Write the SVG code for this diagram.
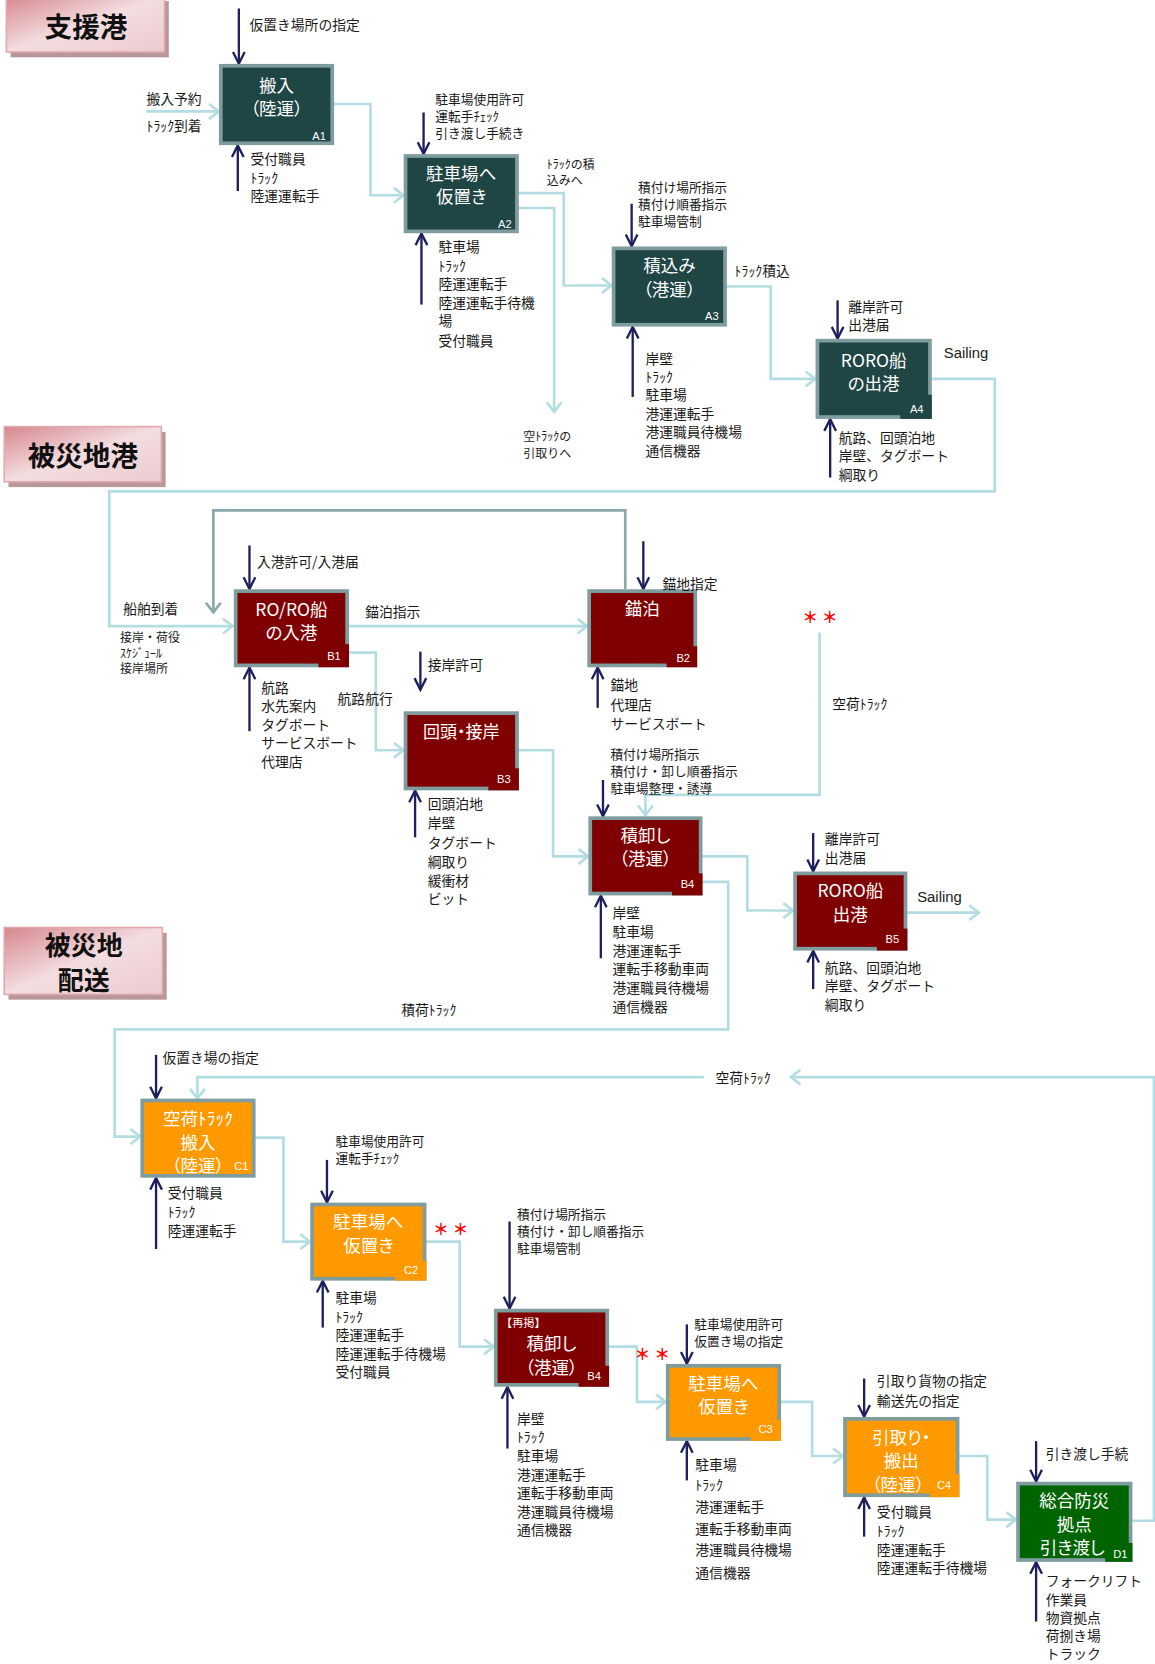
<svg xmlns="http://www.w3.org/2000/svg" width="1155" height="1664" viewBox="0 0 1155 1664">
<defs>
<style>
.lbl{font-family:"Noto Sans CJK JP","Noto Sans",sans-serif;font-size:13px;fill:#1a1a1a;dominant-baseline:central}
.t12{font-size:12px}
.sm{font-size:11.3px}
.bt{font-family:"Noto Sans CJK JP","Noto Sans",sans-serif;font-size:16.5px;fill:#ffffff;text-anchor:middle;dominant-baseline:central;font-feature-settings:"palt" 1}
.rk{font-family:"Noto Sans CJK JP","Noto Sans",sans-serif;font-size:10.5px;fill:#ffffff;dominant-baseline:central}
.id{font-family:"Liberation Sans",Arial,sans-serif;font-size:10.5px;fill:#ffffff;text-anchor:end;dominant-baseline:central}
.lat{font-family:"Liberation Sans",Arial,sans-serif;font-size:14px;fill:#1a1a1a;dominant-baseline:central}
.ttl{font-family:"Noto Sans CJK JP",sans-serif;font-size:26px;font-weight:700;fill:#111111;text-anchor:middle;dominant-baseline:central}
.bx{stroke:#7f9c9e;stroke-width:3.5}
.fa{fill:#1f4545}.fb{fill:#7f0000}.fc{fill:#ff9900}.fd{fill:#006400}
.tb{fill:url(#pink);stroke:#e0a9ae;stroke-width:1.5}
.sh{fill:#b8979a}
.cn{fill:none;stroke:#b3dde2;stroke-width:2.5;marker-end:url(#lb)}
.gr{fill:none;stroke:#8aa7aa;stroke-width:2.5;marker-end:url(#gh)}
.ct{fill:none;stroke:#1f1f5e;stroke-width:2.2;marker-end:url(#nv)}
.ast{font-family:"Noto Sans CJK JP",sans-serif;font-size:15px;font-weight:700;fill:#ff0000;text-anchor:middle;dominant-baseline:central}
</style>
<linearGradient id="pink" x1="0" y1="0" x2="1" y2="1">
<stop offset="0" stop-color="#d6868d"/>
<stop offset="0.5" stop-color="#f3dde0"/>
<stop offset="1" stop-color="#eccbcf"/>
</linearGradient>
<marker id="lb" viewBox="-12 -9 14 18" refX="0" refY="0" markerWidth="14" markerHeight="18" markerUnits="userSpaceOnUse" orient="auto"><path d="M-9,-7 L0,0 L-9,7" fill="none" stroke="#b3dde2" stroke-width="2.5"/></marker>
<marker id="gh" viewBox="-12 -9 14 18" refX="0" refY="0" markerWidth="14" markerHeight="18" markerUnits="userSpaceOnUse" orient="auto"><path d="M-9,-7 L0,0 L-9,7" fill="none" stroke="#8aa7aa" stroke-width="2.5"/></marker>
<marker id="nv" viewBox="-13 -8 15 16" refX="0" refY="0" markerWidth="15" markerHeight="16" markerUnits="userSpaceOnUse" orient="auto"><path d="M-11,-5.5 L0,0 L-11,5.5" fill="none" stroke="#1f1f5e" stroke-width="2.2"/></marker>
</defs>
<rect x="0" y="0" width="1155" height="1664" fill="#ffffff"/>
<g transform="scale(1.06158 1.06122)">

<g id="title-shien">
<rect class="sh" x="10" y="1" width="149" height="53"/>
<rect class="tb" x="6" y="-4" width="149" height="53"/>
<text class="ttl" x="81" y="24">支援港</text>
</g>
<g id="title-hisaichikou">
<rect class="sh" x="8" y="407" width="148" height="52"/>
<rect class="tb" x="4" y="402" width="148" height="52"/>
<text class="ttl" x="78" y="428">被災地港</text>
</g>
<g id="title-haisou">
<rect class="sh" x="8" y="879" width="149" height="63"/>
<rect class="tb" x="4" y="874" width="149" height="63"/>
<text class="ttl" x="79" style="font-size:24.5px"><tspan x="79" y="889">被災地</tspan><tspan x="79" y="922">配送</tspan></text>
</g>

<g id="connectors">
<path class="cn" d="M138,105 H206"/>
<path class="cn" d="M313,98 H349 V184 H380"/>
<path class="cn" d="M487,182 H531 V269 H576"/>
<path class="cn" d="M487,196 H522 V388"/>
<path class="cn" d="M683,270 H726 V357 H768"/>
<path class="cn" d="M876,357 H937 V463 H103 V590 H219"/>
<path class="cn" d="M327,590 H553"/>
<path class="cn" d="M327,615 H354 V707 H380"/>
<path class="cn" d="M487,707 H521 V807 H554"/>
<path class="cn" d="M772,596 V749 H608 V768"/>
<path class="cn" d="M660,807 H704 V858 H747"/>
<path class="cn" d="M853,860 H922"/>
<path class="cn" d="M660,831 H686 V970 H108 V1071 H132"/>
<path class="cn" d="M239,1072 H267 V1170 H292"/>
<path class="cn" d="M400,1170 H433 V1269 H465"/>
<path class="cn" d="M572,1269 H600 V1321 H627"/>
<path class="cn" d="M734,1321 H765 V1372 H794"/>
<path class="cn" d="M902,1372 H930 V1432 H957"/>
<path class="cn" d="M1065,1433 H1087 V1015 H745"/>
<path class="cn" d="M663,1015 H186 V1035"/>
<path class="gr" d="M589,555 V481 H201 V577"/>

<path class="ct" d="M225,8 V60"/>
<path class="ct" d="M224,180 V137"/>
<path class="ct" d="M399,106 V145"/>
<path class="ct" d="M397,287 V220"/>
<path class="ct" d="M595,192 V232"/>
<path class="ct" d="M596,374 V308"/>
<path class="ct" d="M789,283 V319"/>
<path class="ct" d="M782,450 V395"/>
<path class="ct" d="M235,514 V555"/>
<path class="ct" d="M235,689 V629"/>
<path class="ct" d="M606,510 V555"/>
<path class="ct" d="M563,667 V629"/>
<path class="ct" d="M396,614 V650"/>
<path class="ct" d="M391,789 V745"/>
<path class="ct" d="M568,735 V769"/>
<path class="ct" d="M566,903 V844"/>
<path class="ct" d="M766,785 V821"/>
<path class="ct" d="M766,932 V896"/>
<path class="ct" d="M147,994 V1035"/>
<path class="ct" d="M147,1177 V1110"/>
<path class="ct" d="M308,1093 V1133"/>
<path class="ct" d="M304,1251 V1207"/>
<path class="ct" d="M480,1151 V1233"/>
<path class="ct" d="M478,1365 V1307"/>
<path class="ct" d="M647,1248 V1285"/>
<path class="ct" d="M647,1395 V1358"/>
<path class="ct" d="M814,1299 V1335"/>
<path class="ct" d="M814,1448 V1411"/>
<path class="ct" d="M976,1358 V1396"/>
<path class="ct" d="M976,1528 V1472"/>
</g>

<g id="A1">
<rect class="bx fa" x="208" y="62" width="105" height="73"/>
<text class="bt" x="260.5"><tspan x="260.5" y="79">搬入</tspan><tspan x="260.5" y="101">（陸運）</tspan></text>
<text class="id" x="307" y="128">A1</text>
</g>
<g id="A2">
<rect class="bx fa" x="382" y="147" width="105" height="71"/>
<text class="bt" x="434.5"><tspan x="434.5" y="162">駐車場へ</tspan><tspan x="434.5" y="184">仮置き</tspan></text>
<text class="id" x="482" y="211">A2</text>
</g>
<g id="A3">
<rect class="bx fa" x="578" y="234" width="105" height="72"/>
<text class="bt" x="630.5"><tspan x="630.5" y="249">積込み</tspan><tspan x="630.5" y="271">（港運）</tspan></text>
<text class="id" x="677" y="298">A3</text>
</g>
<g id="A4">
<rect class="bx fa" x="770" y="321" width="106" height="72"/>
<rect class="fa" x="848" y="372" width="29.75" height="22.75"/>
<text class="bt" x="823"><tspan x="823" y="338">RORO船</tspan><tspan x="823" y="360">の出港</tspan></text>
<text class="id" x="870" y="385">A4</text>
</g>

<g id="B1">
<rect class="bx fb" x="222" y="557" width="105" height="70"/>
<rect class="fb" x="300" y="607" width="28.75" height="21.75"/>
<text class="bt" x="274.5"><tspan x="274.5" y="573">RO/RO船</tspan><tspan x="274.5" y="595">の入港</tspan></text>
<text class="id" x="321" y="618">B1</text>
</g>
<g id="B2">
<rect class="bx fb" x="555" y="557" width="100" height="70"/>
<rect class="fb" x="628" y="609" width="28.75" height="19.75"/>
<text class="bt" x="605" y="572">錨泊</text>
<text class="id" x="650" y="620">B2</text>
</g>
<g id="B3">
<rect class="bx fb" x="382" y="672" width="105" height="71"/>
<rect class="fb" x="460" y="724" width="28.75" height="20.75"/>
<text class="bt" x="434.5" y="688" style="font-size:16px">回頭・接岸</text>
<text class="id" x="481" y="734">B3</text>
</g>
<g id="B4">
<rect class="bx fb" x="556" y="771" width="104" height="71"/>
<rect class="fb" x="633" y="823" width="28.75" height="20.75"/>
<text class="bt" x="608"><tspan x="608" y="786">積卸し</tspan><tspan x="608" y="808">（港運）</tspan></text>
<text class="id" x="654" y="833">B4</text>
</g>
<g id="B5">
<rect class="bx fb" x="749" y="823" width="104" height="71"/>
<rect class="fb" x="826" y="875" width="28.75" height="20.75"/>
<text class="bt" x="801"><tspan x="801" y="838">RORO船</tspan><tspan x="801" y="860">出港</tspan></text>
<text class="id" x="847" y="885">B5</text>
</g>

<g id="C1">
<rect class="bx fc" x="134" y="1037" width="105" height="71"/>
<text class="bt" x="186.5"><tspan x="186.5" y="1053">空荷ﾄﾗｯｸ</tspan><tspan x="186.5" y="1075">搬入</tspan><tspan x="186.5" y="1097">（陸運）</tspan></text>
<text class="id" x="234" y="1099">C1</text>
</g>
<g id="C2">
<rect class="bx fc" x="294" y="1135" width="106" height="70"/>
<rect class="fc" x="372" y="1188" width="29.75" height="18.75"/>
<text class="bt" x="347"><tspan x="347" y="1150">駐車場へ</tspan><tspan x="347" y="1172">仮置き</tspan></text>
<text class="id" x="394" y="1197">C2</text>
</g>
<g id="B4-repost">
<rect class="bx fb" x="467" y="1235" width="105" height="70"/>
<rect class="fb" x="545" y="1287" width="28.75" height="19.75"/>
<text class="rk" x="472" y="1246">【再掲】</text>
<text class="bt" x="519.5"><tspan x="519.5" y="1265">積卸し</tspan><tspan x="519.5" y="1287">（港運）</tspan></text>
<text class="id" x="566" y="1297">B4</text>
</g>
<g id="C3">
<rect class="bx fc" x="629" y="1287" width="105" height="69"/>
<rect class="fc" x="707" y="1338" width="28.75" height="19.75"/>
<text class="bt" x="681.5"><tspan x="681.5" y="1302">駐車場へ</tspan><tspan x="681.5" y="1324">仮置き</tspan></text>
<text class="id" x="728" y="1347">C3</text>
</g>
<g id="C4">
<rect class="bx fc" x="796" y="1337" width="106" height="72"/>
<rect class="fc" x="876" y="1389" width="27.75" height="21.75"/>
<text class="bt" x="849"><tspan x="849" y="1353">引取り・</tspan><tspan x="849" y="1375">搬出</tspan><tspan x="846" y="1397">（陸運）</tspan></text>
<text class="id" x="896" y="1399">C4</text>
</g>
<g id="D1">
<rect class="bx fd" x="959" y="1398" width="106" height="72"/>
<rect class="fd" x="1041" y="1454" width="25.75" height="17.75"/>
<text class="bt" x="1012"><tspan x="1012" y="1413">総合防災</tspan><tspan x="1012" y="1435">拠点</tspan><tspan x="1010" y="1457">引き渡し</tspan></text>
<text class="id" x="1062" y="1464">D1</text>
</g>

<g id="labels">
<text class="lbl" x="235" y="23">仮置き場所の指定</text>
<text class="lbl" x="138"><tspan x="138" y="92">搬入予約</tspan><tspan x="138" y="118">ﾄﾗｯｸ到着</tspan></text>
<text class="lbl" x="236"><tspan x="236" y="149">受付職員</tspan><tspan x="236" y="167">ﾄﾗｯｸ</tspan><tspan x="236" y="184">陸運運転手</tspan></text>
<text class="lbl t12" x="410"><tspan x="410" y="92">駐車場使用許可</tspan><tspan x="410" y="108">運転手ﾁｪｯｸ</tspan><tspan x="410" y="124">引き渡し手続き</tspan></text>
<text class="lbl" x="413"><tspan x="413" y="232">駐車場</tspan><tspan x="413" y="250">ﾄﾗｯｸ</tspan><tspan x="413" y="267">陸運運転手</tspan><tspan x="413" y="285">陸運運転手待機</tspan><tspan x="413" y="302">場</tspan><tspan x="413" y="320">受付職員</tspan></text>
<text class="lbl sm" x="515"><tspan x="515" y="154">ﾄﾗｯｸの積</tspan><tspan x="515" y="169">込みへ</tspan></text>
<text class="lbl sm" x="493"><tspan x="493" y="410">空ﾄﾗｯｸの</tspan><tspan x="493" y="426">引取りへ</tspan></text>
<text class="lbl t12" x="601"><tspan x="601" y="175">積付け場所指示</tspan><tspan x="601" y="191">積付け順番指示</tspan><tspan x="601" y="207">駐車場管制</tspan></text>
<text class="lbl" x="692" y="254">ﾄﾗｯｸ積込</text>
<text class="lbl" x="608"><tspan x="608" y="337">岸壁</tspan><tspan x="608" y="354">ﾄﾗｯｸ</tspan><tspan x="608" y="371">駐車場</tspan><tspan x="608" y="389">港運運転手</tspan><tspan x="608" y="406">港運職員待機場</tspan><tspan x="608" y="424">通信機器</tspan></text>
<text class="lbl" x="799"><tspan x="799" y="288">離岸許可</tspan><tspan x="799" y="305">出港届</tspan></text>
<text class="lat" x="889" y="333">Sailing</text>
<text class="lbl" x="790"><tspan x="790" y="412">航路、回頭泊地</tspan><tspan x="790" y="429">岸壁、タグボート</tspan><tspan x="790" y="447">綱取り</tspan></text>

<text class="lbl" x="116" y="573">船舶到着</text>
<text class="lbl sm" x="113"><tspan x="113" y="599">接岸・荷役</tspan><tspan x="113" y="614">ｽｹｼﾞｭｰﾙ</tspan><tspan x="113" y="629">接岸場所</tspan></text>
<text class="lbl" x="242" y="529">入港許可/入港届</text>
<text class="lbl" x="344" y="576">錨泊指示</text>
<text class="lbl" x="246"><tspan x="246" y="647">航路</tspan><tspan x="246" y="664">水先案内</tspan><tspan x="246" y="682">タグボート</tspan><tspan x="246" y="699">サービスボート</tspan><tspan x="246" y="717">代理店</tspan></text>
<text class="lbl" x="318" y="658">航路航行</text>
<text class="lbl" x="403" y="626">接岸許可</text>
<text class="lbl" x="403"><tspan x="403" y="757">回頭泊地</tspan><tspan x="403" y="775">岸壁</tspan><tspan x="403" y="793">タグボート</tspan><tspan x="403" y="811">綱取り</tspan><tspan x="403" y="829">緩衝材</tspan><tspan x="403" y="846">ビット</tspan></text>
<text class="lbl" x="624" y="549">錨地指定</text>
<text class="lbl" x="575"><tspan x="575" y="645">錨地</tspan><tspan x="575" y="663">代理店</tspan><tspan x="575" y="681">サービスボート</tspan></text>
<text class="ast" x="772.5" y="581">＊ ＊</text>
<text class="lbl" x="784" y="662">空荷ﾄﾗｯｸ</text>
<text class="lbl t12" x="575"><tspan x="575" y="710">積付け場所指示</tspan><tspan x="575" y="726">積付け・卸し順番指示</tspan><tspan x="575" y="742">駐車場整理・誘導</tspan></text>
<text class="lbl" x="577"><tspan x="577" y="859">岸壁</tspan><tspan x="577" y="877">駐車場</tspan><tspan x="577" y="895">港運運転手</tspan><tspan x="577" y="912">運転手移動車両</tspan><tspan x="577" y="930">港運職員待機場</tspan><tspan x="577" y="948">通信機器</tspan></text>
<text class="lbl" x="777"><tspan x="777" y="790">離岸許可</tspan><tspan x="777" y="808">出港届</tspan></text>
<text class="lat" x="864" y="845">Sailing</text>
<text class="lbl" x="777"><tspan x="777" y="911">航路、回頭泊地</tspan><tspan x="777" y="928">岸壁、タグボート</tspan><tspan x="777" y="946">綱取り</tspan></text>
<text class="lbl" x="378" y="951">積荷ﾄﾗｯｸ</text>

<text class="lbl" x="153" y="996">仮置き場の指定</text>
<text class="lbl" x="674" y="1015">空荷ﾄﾗｯｸ</text>
<text class="lbl" x="158"><tspan x="158" y="1123">受付職員</tspan><tspan x="158" y="1141">ﾄﾗｯｸ</tspan><tspan x="158" y="1159">陸運運転手</tspan></text>
<text class="lbl t12" x="316"><tspan x="316" y="1074">駐車場使用許可</tspan><tspan x="316" y="1090">運転手ﾁｪｯｸ</tspan></text>
<text class="ast" x="424.5" y="1158">＊ ＊</text>
<text class="lbl" x="316"><tspan x="316" y="1222">駐車場</tspan><tspan x="316" y="1240">ﾄﾗｯｸ</tspan><tspan x="316" y="1257">陸運運転手</tspan><tspan x="316" y="1275">陸運運転手待機場</tspan><tspan x="316" y="1292">受付職員</tspan></text>
<text class="lbl t12" x="487"><tspan x="487" y="1143">積付け場所指示</tspan><tspan x="487" y="1159">積付け・卸し順番指示</tspan><tspan x="487" y="1175">駐車場管制</tspan></text>
<text class="lbl" x="487"><tspan x="487" y="1336">岸壁</tspan><tspan x="487" y="1353">ﾄﾗｯｸ</tspan><tspan x="487" y="1371">駐車場</tspan><tspan x="487" y="1389">港運運転手</tspan><tspan x="487" y="1406">運転手移動車両</tspan><tspan x="487" y="1424">港運職員待機場</tspan><tspan x="487" y="1441">通信機器</tspan></text>
<text class="ast" x="614.5" y="1275">＊ ＊</text>
<text class="lbl t12" x="654"><tspan x="654" y="1247">駐車場使用許可</tspan><tspan x="654" y="1263">仮置き場の指定</tspan></text>
<text class="lbl" x="655"><tspan x="655" y="1380">駐車場</tspan><tspan x="655" y="1398">ﾄﾗｯｸ</tspan><tspan x="655" y="1419">港運運転手</tspan><tspan x="655" y="1440">運転手移動車両</tspan><tspan x="655" y="1460">港運職員待機場</tspan><tspan x="655" y="1481">通信機器</tspan></text>
<text class="lbl" x="826"><tspan x="826" y="1300">引取り貨物の指定</tspan><tspan x="826" y="1319">輸送先の指定</tspan></text>
<text class="lbl" x="826"><tspan x="826" y="1424">受付職員</tspan><tspan x="826" y="1442">ﾄﾗｯｸ</tspan><tspan x="826" y="1460">陸運運転手</tspan><tspan x="826" y="1477">陸運運転手待機場</tspan></text>
<text class="lbl" x="985" y="1369">引き渡し手続</text>
<text class="lbl" x="985"><tspan x="985" y="1489">フォークリフト</tspan><tspan x="985" y="1507">作業員</tspan><tspan x="985" y="1524">物資拠点</tspan><tspan x="985" y="1541">荷捌き場</tspan><tspan x="985" y="1558">トラック</tspan></text>
</g>
</g>
</svg>
